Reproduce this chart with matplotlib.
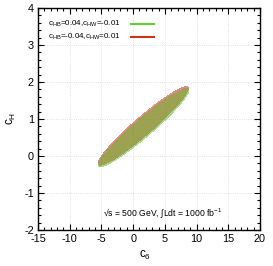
import numpy as np
import matplotlib
matplotlib.use("Agg")
import matplotlib.pyplot as plt
from matplotlib.ticker import MultipleLocator

plt.rcParams['font.family'] = ['Liberation Sans', 'DejaVu Sans']
plt.rcParams['mathtext.fontset'] = 'custom'
plt.rcParams['mathtext.rm'] = 'Liberation Sans'
plt.rcParams['mathtext.it'] = 'Liberation Sans:italic'
plt.rcParams['axes.unicode_minus'] = False

# Series (ellipse contours of chi^2 = 1)
labels = [r'$\mathrm{c}_{\mathrm{HB}}$=-0.04,$\mathrm{c}_{\mathrm{HW}}$=0.01',
          r'$\mathrm{c}_{\mathrm{HB}}$=0.04,$\mathrm{c}_{\mathrm{HW}}$=-0.01']
line_colors = ['#cc3318', '#66cc33']
fill_colors = ['#cd1919', '#55b919']
center_c6 = [1.57, 1.65]
center_cH = [0.81, 0.77]
sigma_c6 = [7.1, 7.15]
sigma_cH = [1.06, 1.06]
rho = [0.955, 0.955]

xticks = [-15, -10, -5, 0, 5, 10, 15, 20]
yticks = [-2, -1, 0, 1, 2, 3, 4]

fig = plt.figure(figsize=(2.73, 2.66), dpi=100)
ax = fig.add_axes([38/273, 36/266, 222/273, 222/266])

gx = np.linspace(-15, 20, 700)
gy = np.linspace(-2, 4, 600)
X, Y = np.meshgrid(gx, gy)
for i in range(2):
    u = (X - center_c6[i]) / sigma_c6[i]
    v = (Y - center_cH[i]) / sigma_cH[i]
    chi2 = (u**2 - 2*rho[i]*u*v + v**2) / (1 - rho[i]**2)
    ax.contourf(X, Y, chi2, levels=[0, 1], colors=[fill_colors[i]], alpha=0.5, zorder=2)

ax.set_xlim(-15, 20)
ax.set_ylim(-2, 4)
ax.set_xticks(xticks)
ax.set_yticks(yticks)
ax.xaxis.set_minor_locator(MultipleLocator(1))
ax.yaxis.set_minor_locator(MultipleLocator(0.2))
ax.tick_params(which='both', direction='in', top=True, right=True, labelsize=7.8, width=0.8, pad=3)
ax.tick_params(which='major', length=4)
ax.tick_params(which='minor', length=2)
ax.grid(True, which='major', color='#d8d8d8', linestyle=':', linewidth=0.6, zorder=0)
for s in ax.spines.values():
    s.set_linewidth(1.0)

# legend (green first row, red second)
rows_y = [0.869, 0.928]
for i in range(2):
    ax.text(0.045, rows_y[i], labels[i], transform=ax.transAxes, fontsize=5.8,
            va='center', ha='left')
    ax.plot([0.414, 0.527], [rows_y[i], rows_y[i]], transform=ax.transAxes,
            color=line_colors[i], lw=1.5, solid_capstyle='butt')

ax.text(0.563, 0.077, '√s = 500 GeV, ∫Ldt = 1000 fb$^{-1}$', transform=ax.transAxes,
        fontsize=6.2, ha='center', va='center')

fig.text(145/273, 1 - 255/266, r'$\mathrm{c}_{6}$', fontsize=8.5, ha='center', va='center')
fig.text(11/273, 1 - 118/266, r'$\mathrm{c}_{\mathrm{H}}$', fontsize=8.5, ha='center', va='center', rotation=90)

fig.savefig('out.png', dpi=100)
